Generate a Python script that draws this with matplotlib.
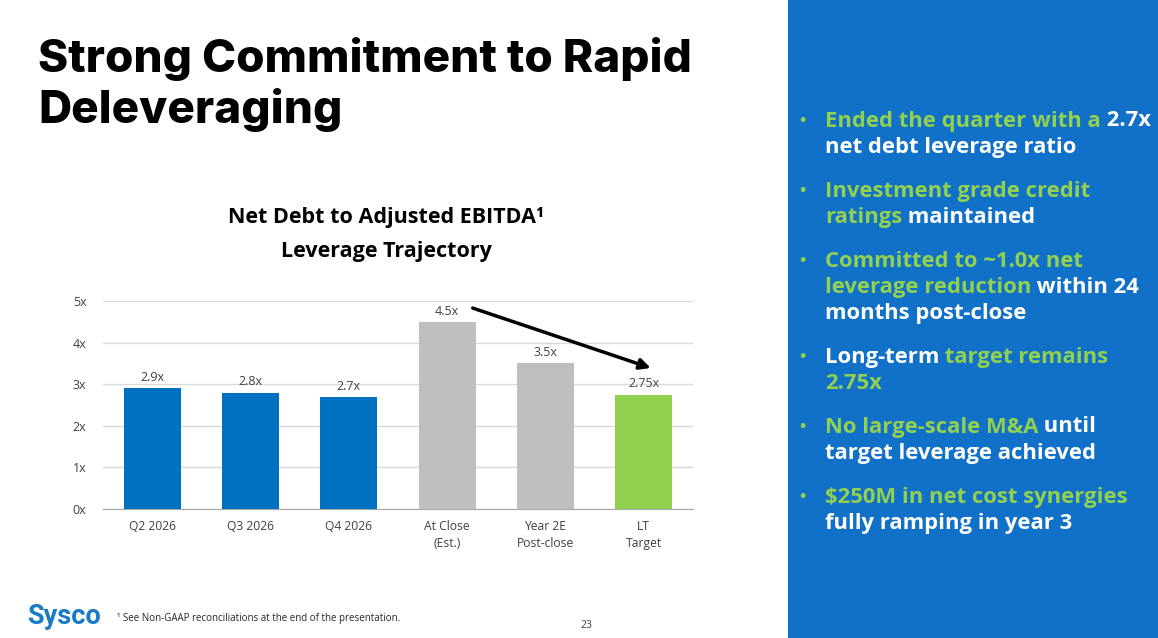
import matplotlib
matplotlib.use("Agg")
import matplotlib.pyplot as plt
from matplotlib.patches import Rectangle

categories = ["Q2 2026", "Q3 2026", "Q4 2026", "At Close\n(Est.)", "Year 2E\nPost-close", "LT\nTarget"]
leverage = [2.9, 2.8, 2.7, 4.5, 3.5, 2.75]
bar_labels = ["2.9x", "2.8x", "2.7x", "4.5x", "3.5x", "2.75x"]
bar_colors = ["#0070C0", "#0070C0", "#0070C0", "#BFBFBF", "#BFBFBF", "#92D050"]
y_ticks = [0, 1, 2, 3, 4, 5]
y_tick_labels = ["0x", "1x", "2x", "3x", "4x", "5x"]
arrow_start = (3.26, 4.83)
arrow_end = (5.07, 3.39)

G = "#92D050"
W = "white"
bullets = [
    [[("Ended the quarter with a", G), (" 2.7x", W)],
     [("net debt leverage ratio", W)]],
    [[("Investment grade credit", G)],
     [("ratings", G), (" maintained", W)]],
    [[("Committed to ~1.0x net", G)],
     [("leverage reduction", G), (" within 24", W)],
     [("months post-close", W)]],
    [[("Long-term", W), (" target remains", G)],
     [("2.75x", G)]],
    [[("No large-scale M&A", G), (" until", W)],
     [("target leverage achieved", W)]],
    [[("$250M in net cost synergies", G)],
     [("fully ramping in year 3", W)]],
]
bullet_tops = [121, 191, 261, 357, 427, 497]

FW, FH = 1158, 638
fig = plt.figure(figsize=(FW / 100, FH / 100), dpi=100)
fig.patch.set_facecolor("white")
renderer = fig.canvas.get_renderer()

def fx(px):
    return px / FW

def fy(py):
    return 1 - py / FH

# blue side panel
fig.patches.append(Rectangle((fx(788), 0), 1 - fx(788), 1, transform=fig.transFigure,
                             facecolor="#1170C8", edgecolor="none", zorder=0))

# slide title
fig.text(fx(38), fy(72), "Strong Commitment to Rapid", fontsize=33, fontweight="heavy",
         family="Inter", color="black", va="baseline")
fig.text(fx(38), fy(123), "Deleveraging", fontsize=33, fontweight="heavy",
         family="Inter", color="black", va="baseline")

# chart
ax = fig.add_axes([fx(103), fy(509), fx(693) - fx(103), fy(301) - fy(509)])
x = list(range(len(categories)))
ax.bar(x, leverage, width=0.58, color=bar_colors, zorder=3)
for xi, v, lab in zip(x, leverage, bar_labels):
    ax.annotate(lab, (xi, v), xytext=(0, 3), textcoords="offset points", ha="center",
                va="bottom", fontsize=9, family="Open Sans", color="#404040")
ax.set_xlim(-0.5, len(categories) - 0.5)
ax.set_ylim(0, 5)
ax.set_yticks(y_ticks)
ax.set_yticklabels(y_tick_labels, family="Open Sans", fontsize=9, color="#404040")
ax.set_xticks(x)
ax.set_xticklabels(categories, family="Open Sans", fontsize=8.7, color="#404040", linespacing=1.4)
ax.tick_params(length=0, pad=8)
ax.tick_params(axis="y", pad=12)
ax.grid(axis="y", color="#D9D9D9", linewidth=1, zorder=0)
for s in ["top", "right", "left"]:
    ax.spines[s].set_visible(False)
ax.spines["bottom"].set_color("#A6A6A6")
ax.annotate("", xy=arrow_end, xytext=arrow_start,
            arrowprops=dict(arrowstyle="-|>", lw=2.5, color="black", mutation_scale=16,
                            shrinkA=0, shrinkB=0), annotation_clip=False)

fig.text(fx(386), fy(218), "Net Debt to Adjusted EBITDA\u00b9", fontsize=15.5, fontweight="bold",
         family="Open Sans", ha="center", va="center", color="black")
fig.text(fx(386), fy(251), "Leverage Trajectory", fontsize=15.5, fontweight="bold",
         family="Open Sans", ha="center", va="center", color="black")

# bullets, pieces of each line placed one after another
line_gap = 26.5
for top, lines in zip(bullet_tops, bullets):
    fig.text(fx(798), fy(top), "\u2022", fontsize=16, color=G, family="Open Sans",
             va="center", ha="left")
    for i, pieces in enumerate(lines):
        y = top + i * line_gap
        xpix = 825
        for txt, col in pieces:
            t = fig.text(fx(xpix), fy(y), txt, fontsize=15.8, fontweight="bold", family="Open Sans",
                         color=col, va="center", ha="left")
            bb = t.get_window_extent(renderer)
            xpix = bb.x1

# footer
fig.text(fx(27), fy(617), "Sysco", fontsize=19.5, fontweight="bold", family="Roboto",
         color="#1A7BC4", va="center", ha="left")
fig.text(fx(117), fy(618), "\u00b9 See Non-GAAP reconciliations at the end of the presentation.",
         fontsize=7, family="Open Sans", color="#262626", va="center", ha="left")
fig.text(fx(586), fy(626), "23", fontsize=7.5, family="Open Sans", color="#404040",
         va="center", ha="center")

fig.savefig("out.png", dpi=100)
